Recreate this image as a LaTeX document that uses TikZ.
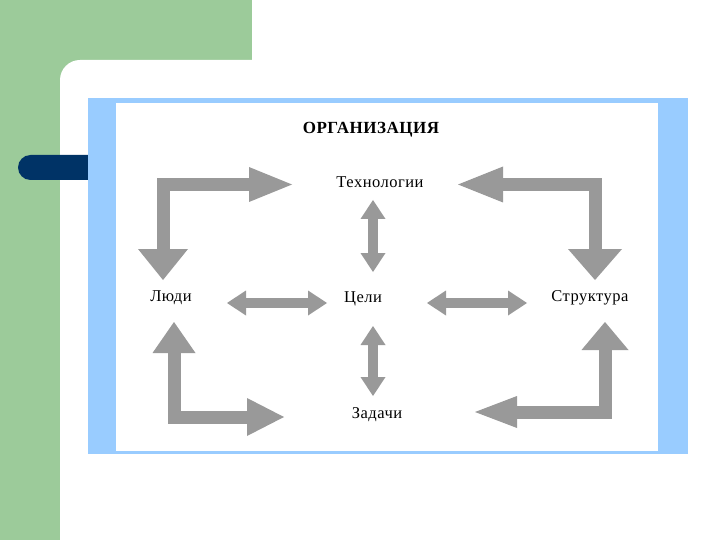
\documentclass[tikz,border=0pt]{standalone}
\usepackage{fontspec}
\setmainfont{Liberation Serif}[LetterSpace=3]
\usepackage{tikz}
\usetikzlibrary{arrows.meta, calc}

\definecolor{slidegreen}{HTML}{9CCB9A}
\definecolor{slidenavy}{HTML}{003366}
\definecolor{frameblue}{HTML}{99CCFF}
\definecolor{arrowgray}{HTML}{999999}

\begin{document}
\begin{tikzpicture}[x=1pt, y=-1pt, font=\fontsize{16.5}{19}\selectfont,
  bent/.style={draw=arrowgray, line width=13pt, line join=miter},
  twoway/.style={draw=arrowgray, line width=10pt,
    arrows={Triangle[length=19pt,width=25pt,line width=0pt]-Triangle[length=19pt,width=25pt,line width=0pt]}}]
				\useasboundingbox (0,0) rectangle (720,540);
				\fill[slidegreen] (0,0) rectangle (252,60);
				\fill[slidegreen] (0,0) rectangle (90,540);
				\fill[white, rounded corners=20pt] (60,60) rectangle (760,580);
				\fill[slidenavy, rounded corners=12.5pt] (18,155) rectangle (110,180);
				\fill[frameblue] (88,98) rectangle (688,454);
				\fill[white] (116,103) rectangle (658,451);
				
				\node[font=\bfseries\fontsize{17}{20}\selectfont] (title) at (371,130) {ОРГАНИЗАЦИЯ};
				\node (tech) at (380,182) {Технологии};
				\node (people) at (171,298) {Люди};
				\node (goals) at (363,299) {Цели};
				\node (structure) at (590,298) {Структура};
				\node (tasks) at (377,415) {Задачи};
				
				\draw[bent, arrows={Triangle[length=31pt,width=50pt,line width=0pt]-Triangle[length=43pt,width=35pt,line width=0pt]}] ($(people)+(-8,-18)$) |- ($(tech)+(-88,2.5)$);
				\draw[bent, arrows={Triangle[length=45pt,width=36pt,line width=0pt]-Triangle[length=31pt,width=54pt,line width=0pt]}] ($(tech)+(78,2.5)$) -| ($(structure)+(5,-18)$);
				\draw[bent, arrows={Triangle[length=31pt,width=43pt,line width=0pt]-Triangle[length=37pt,width=38pt,line width=0pt]}] ($(people)+(3,24)$) |- ($(tasks)+(-93,2)$);
				\draw[bent, arrows={Triangle[length=28pt,width=47pt,line width=0pt]-Triangle[length=42pt,width=32pt,line width=0pt]}] ($(structure)+(15,24)$) |- ($(tasks)+(98,-3)$);
				
				\draw[twoway] ($(people)+(56,5)$) -- ($(goals)+(-36,4)$);
				\draw[twoway] ($(goals)+(64,4)$) -- ($(structure)+(-63,5)$);
				\draw[twoway] ($(tech)+(-7,18)$) -- ($(goals)+(10,-27)$);
				\draw[twoway] ($(goals)+(10,27)$) -- ($(tasks)+(-4,-19)$);
			\end{tikzpicture}
\end{document}
